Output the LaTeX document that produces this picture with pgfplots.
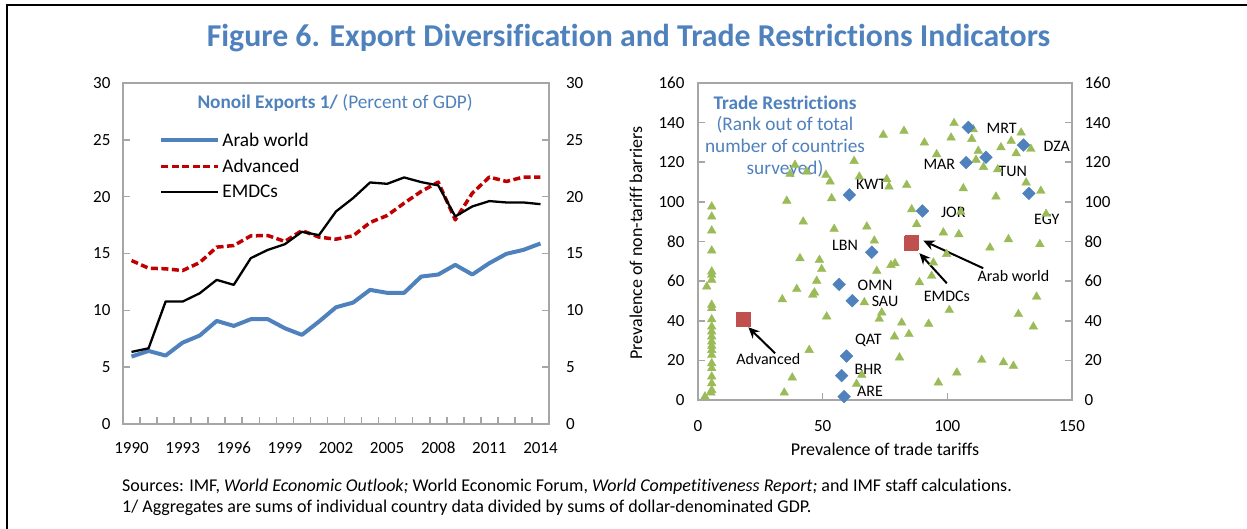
\documentclass[border=0pt]{standalone}
\usepackage{pgfplots}
\pgfplotsset{compat=1.18}
\usepackage{fontspec}
\setmainfont{Carlito}[Ligatures=NoCommon]
\usetikzlibrary{arrows.meta}

\definecolor{axisgray}{RGB}{166,166,166}
\definecolor{tblue}{RGB}{79,129,189}
\definecolor{dred}{RGB}{192,0,0}
\definecolor{tgreen}{RGB}{155,187,89}
\definecolor{sred}{RGB}{192,80,77}

\newcommand{\fs}{\fontsize{16}{16}\selectfont}
\newcommand{\tl}{\fontsize{17}{17}\selectfont}
\newcommand{\lb}{\fontsize{18}{18}\selectfont}
\newcommand{\bigf}{\fontsize{19.3}{21.7}\selectfont}

\pgfplotsset{
  mystyle/.style={
    scale only axis,
    anchor=south west,
    axis line style={draw=axisgray, line width=1.6pt},
    tick style={draw=axisgray, line width=1.6pt},
    major tick length=7pt,
    tick align=inside,
    tick label style={font=\tl},
    /pgf/number format/assume math mode=true,
    /pgf/number format/1000 sep={},
    clip=false,
  }
}

\pgfplotstableread{
year arab adv emdc
1990 5.93 14.38 6.34
1991 6.43 13.71 6.66
1992 6.02 13.65 10.77
1993 7.16 13.50 10.77
1994 7.78 14.20 11.50
1995 9.07 15.56 12.68
1996 8.63 15.70 12.24
1997 9.22 16.55 14.59
1998 9.22 16.58 15.32
1999 8.42 16.06 15.82
2000 7.84 17.02 16.91
2001 9.01 16.44 16.61
2002 10.27 16.26 18.70
2003 10.68 16.55 19.87
2004 11.80 17.73 21.25
2005 11.54 18.34 21.13
2006 11.54 19.43 21.69
2007 12.97 20.46 21.28
2008 13.15 21.28 20.99
2009 14.00 17.96 18.26
2010 13.15 20.31 19.14
2011 14.15 21.72 19.61
2012 14.97 21.34 19.49
2013 15.32 21.72 19.49
2014 15.88 21.72 19.34
}\nonoil

\pgfplotstableread{
x y
102.7 139.7
110.4 136.6
74.3 133.8
82.6 135.8
90.8 129.9
101.5 132.4
109.8 131.7
129.6 134.9
125.6 130.7
121.5 127.5
127.6 124.5
133.5 126.7
95.7 124.0
112.4 125.7
111.5 121.2
114.5 117.5
120.2 116.4
131.6 109.7
137.5 105.5
106.4 106.8
119.5 102.6
139.6 93.9
105.4 95.0
85.7 96.2
87.7 88.7
98.4 84.5
104.6 83.6
124.5 81.1
117.1 76.9
137.1 78.6
99.7 73.6
94.4 69.3
83.7 108.5
76.6 107.7
75.7 111.4
62.6 120.6
64.7 112.7
53.6 101.8
35.6 100.5
42.2 90.0
54.6 86.3
67.7 87.5
70.7 80.4
51.3 113.6
53.0 110.2
43.6 115.2
38.9 118.6
36.9 114.1
40.9 71.5
48.7 70.7
79.0 69.0
77.4 68.1
49.6 66.0
71.7 65.1
93.7 62.6
88.8 59.4
47.6 60.1
39.6 56.0
46.7 54.2
46.0 53.0
33.8 50.8
66.7 49.3
73.7 44.1
72.7 40.9
51.6 42.1
37.8 11.3
34.6 3.7
44.6 25.2
65.7 12.6
63.6 8.1
78.8 32.0
84.6 33.2
81.7 39.0
92.5 38.4
80.8 21.4
100.8 45.4
103.8 13.8
96.4 8.8
113.8 20.2
122.5 19.0
126.5 17.2
128.5 43.3
134.5 37.0
135.8 52.1
5.5 97.6
5.5 92.5
5.5 85.5
5.5 75.4
5.5 64.8
5.5 63.1
5.5 60.6
5.5 48.0
5.5 46.3
5.5 40.7
5.5 37.0
5.5 34.5
5.5 32.0
5.5 29.4
5.5 27.3
5.5 25.2
5.5 22.7
5.5 18.5
5.5 16.0
5.5 11.8
5.5 8.4
5.5 5.0
5.2 3.7
3.5 57.2
2.8 1.7
}\others

\pgfplotstableread{
x y
108.4 137.6
130.5 128.7
107.5 119.8
115.5 122.5
132.7 104.3
60.7 103.5
90.0 95.4
69.7 74.6
56.6 58.4
61.9 50.1
59.6 22.2
57.6 12.3
58.6 1.7
}\arabc

\pgfplotstableread{
x y
85.7 79.6
85.3 79.2
18.2 40.9
}\aggr

\begin{document}
\begin{tikzpicture}[x=1pt,y=1pt]
\useasboundingbox (0,0) rectangle (1247,529);
\draw[line width=2.6pt] (5.7,524) -- (1247,524);
\draw[line width=2pt] (6.7,0) -- (6.7,525);
\node[font=\fontsize{31.8}{31.8}\selectfont\bfseries, text=tblue] at (628.5,491) {Figure 6. Export Diversification and Trade Restrictions Indicators};

% ---------------- Left chart ----------------
\begin{axis}[mystyle, at={(123pt,105pt)}, width=426pt, height=341pt,
  xmin=1989.5, xmax=2014.5, ymin=0, ymax=30,
  xtick={1990.5,1991.5,1992.5,1993.5,1994.5,1995.5,1996.5,1997.5,1998.5,1999.5,2000.5,2001.5,2002.5,2003.5,2004.5,2005.5,2006.5,2007.5,2008.5,2009.5,2010.5,2011.5,2012.5,2013.5},
  xticklabels={}, xtick pos=bottom,
  ytick={0,5,...,30}, ytick pos=both, yticklabel pos=left,
  yticklabel style={xshift=-9pt},
  legend style={at={(rel axis cs:0.085,0.86)}, anchor=north west, draw=none, fill=none,
    font=\bigf, row sep=7pt, inner sep=0pt, nodes={inner sep=2pt}},
  legend cell align=left,
  legend image code/.code={\draw[#1] (0pt,0pt) -- (57pt,0pt);},
]
\addplot[tblue, line width=4pt, line join=round] table[x=year,y=arab] {\nonoil};
\addlegendentry{Arab world}
\addplot[dred, line width=3.5pt, dash pattern=on 7pt off 3.5pt, line join=round] table[x=year,y=adv] {\nonoil};
\addlegendentry{Advanced}
\addplot[black, line width=2.3pt, line join=round] table[x=year,y=emdc] {\nonoil};
\addlegendentry{EMDCs}
\node[font=\bigf, text=tblue] at (rel axis cs:0.498,0.942) {\textbf{Nonoil Exports 1/} (Percent of GDP)};
\end{axis}
\begin{axis}[mystyle, at={(123pt,105pt)}, width=426pt, height=341pt,
  xmin=1989.5, xmax=2014.5, ymin=0, ymax=30,
  axis x line*=bottom, axis y line*=right,
  axis line style={draw=none}, tick style={draw=none},
  xtick={1990,1993,...,2014}, ytick={0,5,...,30},
  xticklabel style={yshift=-14.5pt},
  yticklabel style={xshift=13.5pt},
]
\addplot[draw=none] coordinates {(1990,0)};
\end{axis}

% ---------------- Right chart ----------------
\begin{axis}[mystyle, at={(698pt,129pt)}, width=374pt, height=317pt,
  xmin=0, xmax=150, ymin=0, ymax=160,
  xtick={0,50,100,150}, xtick pos=bottom,
  ytick={0,20,...,160}, ytick pos=both, yticklabel pos=left,
  xticklabel style={yshift=-17pt},
  yticklabel style={xshift=-10pt},
  xlabel={Prevalence of trade tariffs},
  ylabel={Prevalence of non-tariff barriers},
  every axis x label/.style={at={(rel axis cs:0.5,-0.1546)}, anchor=center, font=\lb},
  every axis y label/.style={at={(rel axis cs:-0.1658,0.495)}, anchor=center, rotate=90, font=\lb},
]
\addplot[only marks, mark=triangle*, mark size=5pt, mark options={fill=tgreen, draw=tgreen}] table[x=x,y=y] {\others};
\addplot[only marks, mark=square*, mark size=4.5pt, mark options={fill=tblue, draw=tblue, rotate=45}] table[x=x,y=y] {\arabc};
\addplot[only marks, mark=square*, mark size=6.8pt, mark options={fill=sred, draw=sred}] table[x=x,y=y] {\aggr};
\node[font=\bigf, text=tblue, align=center] at (axis cs:34.9,133.0) {\textbf{Trade Restrictions}\\(Rank out of total\\number of countries\\surveyed)};
\node[font=\fs] at (axis cs:121.8,137.1) {MRT};
\node[font=\fs] at (axis cs:143.9,127.9) {DZA};
\node[font=\fs] at (axis cs:96.8,119.0) {MAR};
\node[font=\fs] at (axis cs:126.2,115.6) {TUN};
\node[font=\fs] at (axis cs:139.9,91.2) {EGY};
\node[font=\fs] at (axis cs:69.4,108.9) {KWT};
\node[font=\fs] at (axis cs:102.4,94.6) {JOR};
\node[font=\fs] at (axis cs:59.0,78.2) {LBN};
\node[font=\fs] at (axis cs:71.0,57.7) {OMN};
\node[font=\fs] at (axis cs:75.0,50.0) {SAU};
\node[font=\fs] at (axis cs:68.3,29.9) {QAT};
\node[font=\fs] at (axis cs:68.3,15.6) {BHR};
\node[font=\fs] at (axis cs:69.0,4.2) {ARE};
\node[font=\fs] at (axis cs:126.5,62.6) {Arab world};
\node[font=\fs] at (axis cs:99.8,52.1) {EMDCs};
\node[font=\fs] at (axis cs:28.2,20.7) {Advanced};
\draw[-{Stealth[length=11pt,width=10pt]}, line width=2pt] (axis cs:114.4,66.5) -- (axis cs:90.4,80.4);
\draw[-{Stealth[length=11pt,width=10pt]}, line width=2pt] (axis cs:99.8,58.9) -- (axis cs:88.8,74.1);
\draw[-{Stealth[length=11pt,width=10pt]}, line width=2pt] (axis cs:30.9,23.6) -- (axis cs:20.2,36.7);
\end{axis}
\begin{axis}[mystyle, at={(698pt,129pt)}, width=374pt, height=317pt,
  xmin=0, xmax=150, ymin=0, ymax=160,
  hide x axis, axis y line*=right,
  axis line style={draw=none}, tick style={draw=none},
  ytick={0,20,...,160},
  yticklabel style={xshift=9pt},
]
\addplot[draw=none] coordinates {(0,0)};
\end{axis}

% ---------------- Footer ----------------
\node[anchor=west, font=\fontsize{18}{18}\selectfont, inner sep=0pt] at (122,42) {Sources: IMF, \textit{World Economic Outlook;} World Economic Forum, \textit{World Competitiveness Report;} and IMF staff calculations.};
\node[anchor=west, font=\fontsize{18}{18}\selectfont, inner sep=0pt] at (122,21) {1/ Aggregates are sums of individual country data divided by sums of dollar-denominated GDP.};
\end{tikzpicture}
\end{document}
